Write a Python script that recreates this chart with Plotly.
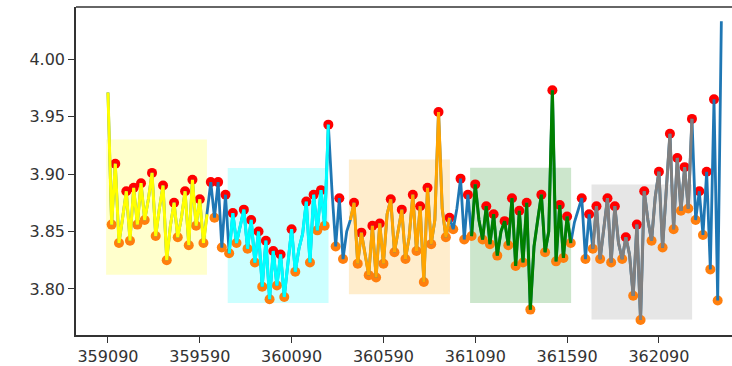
import plotly.graph_objects as go

# ---- data ----
x_start = 359090
x_step = 20
prices = [
    3.971, 3.856, 3.909, 3.840, 3.862, 3.885, 3.842, 3.888, 3.856, 3.892,
    3.860, 3.878, 3.901, 3.846, 3.870, 3.890, 3.825, 3.855, 3.875, 3.845,
    3.862, 3.885, 3.838, 3.895, 3.855, 3.878, 3.840, 3.865, 3.893, 3.862,
    3.893, 3.836, 3.882, 3.831, 3.866, 3.840, 3.855, 3.869, 3.835, 3.860,
    3.823, 3.850, 3.802, 3.842, 3.791, 3.833, 3.803, 3.830, 3.793, 3.820,
    3.852, 3.815, 3.835, 3.848, 3.876, 3.823, 3.882, 3.851, 3.886, 3.855,
    3.943, 3.885, 3.837, 3.879, 3.826, 3.850, 3.860, 3.875, 3.822, 3.849,
    3.830, 3.812, 3.855, 3.810, 3.857, 3.822, 3.865, 3.878, 3.832, 3.850,
    3.869, 3.826, 3.845, 3.882, 3.833, 3.872, 3.806, 3.888, 3.839, 3.860,
    3.954, 3.870, 3.845, 3.862, 3.852, 3.870, 3.896, 3.843, 3.882, 3.846,
    3.891, 3.860, 3.843, 3.872, 3.839, 3.865, 3.829, 3.850, 3.859, 3.838,
    3.879, 3.820, 3.868, 3.823, 3.875, 3.782, 3.837, 3.860, 3.882, 3.832,
    3.850, 3.973, 3.824, 3.873, 3.827, 3.863, 3.840, 3.858, 3.868, 3.879,
    3.826, 3.865, 3.835, 3.872, 3.826, 3.855, 3.879, 3.823, 3.872, 3.840,
    3.826, 3.845, 3.830, 3.794, 3.856, 3.773, 3.885, 3.860, 3.842, 3.880,
    3.902, 3.836, 3.890, 3.935, 3.852, 3.914, 3.868, 3.906, 3.870, 3.948,
    3.860, 3.885, 3.847, 3.902, 3.817, 3.965, 3.790, 4.033,
]
x_vals = [x_start + x_step * i for i in range(len(prices))]

# highlighted segments (index ranges) and their shaded boxes
seg_start_idx = [0, 33, 66, 99, 132]
seg_end_idx = [27, 60, 93, 126, 159]
seg_colors = ["yellow", "cyan", "orange", "green", "gray"]
box_x0 = [359080, 359742, 360402, 361062, 361723]
box_x1 = [359629, 360291, 360952, 361612, 362271]
box_low = [3.8124, 3.7877, 3.7954, 3.7877, 3.7733]
box_high = [3.9300, 3.9052, 3.9127, 3.9055, 3.8910]
box_fill = ["rgb(255,255,204)", "rgb(204,255,255)", "rgb(255,237,204)",
            "rgb(204,230,204)", "rgb(230,230,230)"]

tick_vals_x = [359090, 359590, 360090, 360590, 361090, 361590, 362090]
tick_vals_y = [3.80, 3.85, 3.90, 3.95, 4.00]

# ---- local extrema ----
peak_idx = [i for i in range(1, len(prices) - 1)
            if prices[i] > prices[i - 1] and prices[i] > prices[i + 1]]
trough_idx = [i for i in range(1, len(prices) - 1)
              if prices[i] < prices[i - 1] and prices[i] < prices[i + 1]]

fig = go.Figure()

for x0, x1, lo, hi, fc in zip(box_x0, box_x1, box_low, box_high, box_fill):
    fig.add_shape(type="rect", x0=x0, x1=x1, y0=lo, y1=hi, xref="x", yref="y",
                  fillcolor=fc, line_width=0, layer="below")

fig.add_trace(go.Scatter(x=[x_vals[i] for i in peak_idx], y=[prices[i] for i in peak_idx],
                         mode="markers", marker=dict(color="red", size=10),
                         showlegend=False))
fig.add_trace(go.Scatter(x=[x_vals[i] for i in trough_idx], y=[prices[i] for i in trough_idx],
                         mode="markers", marker=dict(color="#ff7f0e", size=10),
                         showlegend=False))

fig.add_trace(go.Scatter(x=x_vals, y=prices, mode="lines",
                         line=dict(color="#1f77b4", width=2.8), showlegend=False))

for s, e, c in zip(seg_start_idx, seg_end_idx, seg_colors):
    fig.add_trace(go.Scatter(x=x_vals[s:e + 1], y=prices[s:e + 1], mode="lines",
                             line=dict(color=c, width=3), showlegend=False))

# top spine (right spine cropped off in the reference)
fig.add_shape(type="line", xref="paper", yref="paper", x0=0, x1=1, y0=1, y1=1,
              line=dict(color="#333333", width=1.5))

fig.update_layout(
    width=732, height=366,
    margin=dict(l=76, r=0, t=7, b=28),
    plot_bgcolor="white", paper_bgcolor="white",
    font=dict(family="DejaVu Sans", size=16, color="#333333"),
)
fig.update_xaxes(range=[358916, 362488], tickvals=tick_vals_x,
                 ticktext=[str(v) for v in tick_vals_x],
                 showgrid=False, zeroline=False, showline=True,
                 linecolor="#333333", linewidth=1.5,
                 ticks="outside", ticklen=6, tickcolor="#333333")
fig.update_yaxes(range=[3.7599, 4.0454], tickvals=tick_vals_y,
                 ticktext=["%.2f" % v for v in tick_vals_y],
                 showgrid=False, zeroline=False, showline=True,
                 linecolor="#333333", linewidth=1.5,
                 ticks="outside", ticklen=6, tickcolor="#333333")

fig.write_html("out.html", config={"displayModeBar": False},
               post_script="document.body.style.margin='0';document.body.style.overflow='hidden';")
